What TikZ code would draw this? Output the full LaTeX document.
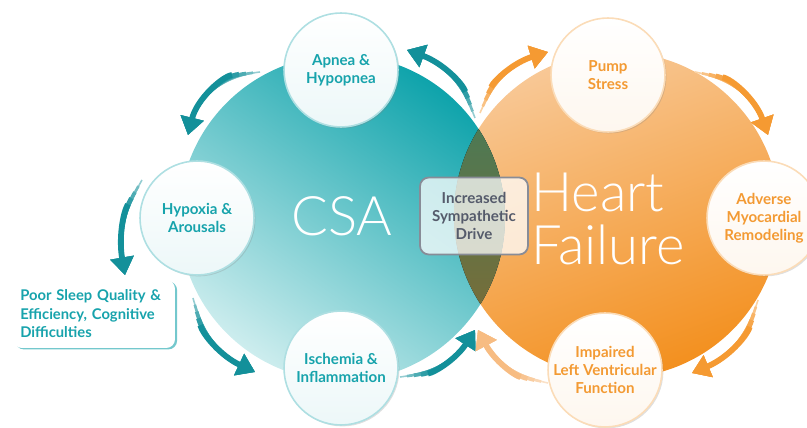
\documentclass[tikz,border=0pt]{standalone}
\usepackage{fontspec}
\setmainfont{Lato}
\newfontfamily\thinfont{Lato Light}
\usepackage{xcolor}
\usepackage{tikz}
\usetikzlibrary{arrows.meta}
\usetikzlibrary{shadows}

\definecolor{tealdark}{HTML}{0EA3AB}
\definecolor{teallight}{HTML}{CDEDEE}
\definecolor{tealtext}{HTML}{17A3AC}
\definecolor{tealarrow}{HTML}{13909A}
\definecolor{orangelight}{HTML}{F8C896}
\definecolor{orangedark}{HTML}{F3901F}
\definecolor{orangetext}{HTML}{F39A33}
\definecolor{orangearrow}{HTML}{F59A32}
\definecolor{orangefade}{HTML}{F7BC82}
\definecolor{lenstop}{HTML}{3C7E5F}
\definecolor{lensbot}{HTML}{86692F}
\definecolor{drivetext}{HTML}{555B6B}

\begin{document}
\begin{tikzpicture}[
  x=0.02cm, y=-0.02cm,
  bigcirc/.style={circle, minimum size=6.52cm, inner sep=0pt},
  bigtitle/.style={text=white, align=left, font=\thinfont\fontsize{31}{30}\selectfont},
  stagecirc/.style={circle, minimum size=2.28cm, inner sep=0pt, align=center,
    top color=white, bottom color=#1!8, draw=#1!35, line width=0.9pt,
    drop shadow={shadow xshift=0.8pt, shadow yshift=-0.8pt, opacity=0.25},
    text=#1, font=\bfseries\fontsize{8.6}{10.3}\selectfont},
  taper/.style={line width=0.9pt, draw=#1!45, -{Triangle[length=10pt,width=13pt]},
    postaction={draw=#1!60, line width=1.5pt, shorten <=4pt},
    postaction={draw=#1!75, line width=2.1pt, shorten <=8pt},
    postaction={draw=#1!88, line width=2.7pt, shorten <=12pt},
    postaction={draw=#1, line width=3.3pt, shorten <=16pt}}
]
\useasboundingbox (0,0) rectangle (807,428);

\node[bigcirc, top color=orangelight, bottom color=orangedark, shading angle=20] (hf) at (617,215) {};
\node[bigcirc, top color=teallight, bottom color=tealdark, shading angle=145] (csa) at (342,218) {};
\begin{scope}
  \clip (342,218) circle (3.26cm);
  \fill[top color=lenstop, bottom color=lensbot] (617,215) circle (3.26cm);
\end{scope}

\node[bigtitle] (csatitle) at (342,216) {CSA};
\node[bigtitle] (hftitle)  at (608,219) {Heart\\Failure};

\coordinate (a1s) at (260,72);  \coordinate (a1e) at (188,135);
\coordinate (a2s) at (142,180); \coordinate (a2e) at (125,275);
\coordinate (a3s) at (193,298); \coordinate (a3e) at (255,372);
\coordinate (a4s) at (400,377); \coordinate (a4e) at (475,330);
\coordinate (a5s) at (475,118); \coordinate (a5e) at (407,50);
\coordinate (b1s) at (480,113); \coordinate (b1e) at (548,52);
\coordinate (b2s) at (695,72);  \coordinate (b2e) at (768,135);
\coordinate (b3s) at (758,300); \coordinate (b3e) at (692,373);
\coordinate (b4s) at (548,383); \coordinate (b4e) at (478,330);

\draw[taper=tealarrow] (a1s) to[bend right=35] (a1e);
\draw[taper=tealarrow] (a2s) to[bend right=20] (a2e);
\draw[taper=tealarrow] (a3s) to[bend right=25] (a3e);
\draw[taper=tealarrow] (a4s) to[bend right=25] (a4e);
\draw[taper=tealarrow] (a5s) to[bend right=25] (a5e);
\draw[taper=orangearrow] (b1s) to[bend left=25] (b1e);
\draw[taper=orangearrow] (b2s) to[bend left=30] (b2e);
\draw[taper=orangearrow] (b3s) to[bend left=25] (b3e);
\draw[taper=orangefade]  (b4s) to[bend left=25] (b4e);

\node[stagecirc=tealtext] (apnea)    at (341,70)  {Apnea \&\\Hypopnea};
\node[stagecirc=tealtext] (hypoxia)  at (197,218) {Hypoxia \&\\Arousals};
\node[stagecirc=tealtext] (ischemia) at (341,368) {Ischemia \&\\Inflammation};
\node[stagecirc=orangetext] (pump)     at (608,75)  {Pump\\Stress};
\node[stagecirc=orangetext] (adverse)  at (764,218) {Adverse\\Myocardial\\Remodeling};
\node[stagecirc=orangetext] (impaired) at (605,370) {Impaired\\Left Ventricular\\Function};

\node[draw=drivetext!70, line width=1pt, fill=white, fill opacity=0.75, text opacity=1,
  rounded corners=5pt, minimum width=2.16cm, minimum height=1.54cm, align=center,
  text=drivetext, font=\bfseries\fontsize{8.6}{10}\selectfont] (drive) at (474,216)
  {Increased\\Sympathetic\\Drive};

\node[fill=white, rounded corners=5pt, minimum width=3.24cm, minimum height=1.36cm,
  text width=2.95cm, align=left, text=tealtext,
  drop shadow={fill=tealtext, shadow xshift=1.2pt, shadow yshift=-0.8pt, opacity=0.6},
  font=\bfseries\fontsize{8.4}{10.5}\selectfont] (sleep) at (94,314)
  {Poor Sleep Quality \&\\Efficiency, Cognitive\\Difficulties};
\end{tikzpicture}
\end{document}
